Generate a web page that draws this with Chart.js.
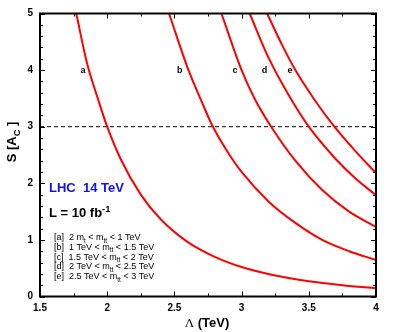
<!DOCTYPE html>
<html><head><meta charset="utf-8">
<script src="https://cdn.jsdelivr.net/npm/chart.js@4.4.1/dist/chart.umd.min.js"></script>
<style>html,body{margin:0;padding:0;background:#fff}#wrap{width:396px;height:332px}</style>
</head><body><div id="wrap"><canvas id="c" width="396" height="332"></canvas></div>
<script>
// ---- data ----
const lambdaA = [1.77, 1.85, 1.93, 2.0, 2.1, 2.25, 2.4, 2.6, 2.8, 3.0, 3.25, 3.5, 3.75, 4.0];
const sA      = [5.0, 4.12, 3.5, 3.0, 2.43, 1.8, 1.36, 0.96, 0.70, 0.52, 0.37, 0.27, 0.20, 0.145];
const lambdaB = [2.46, 2.6, 2.7, 2.78, 2.9, 3.0, 3.2, 3.4, 3.6, 3.8, 4.0];
const sB      = [5.0, 4.03, 3.46, 3.03, 2.54, 2.2, 1.68, 1.3, 1.0, 0.8, 0.645];
const lambdaC = [2.85, 3.0, 3.1, 3.22, 3.4, 3.6, 3.8, 4.0];
const sC      = [5.0, 4.0, 3.48, 3.0, 2.4, 1.88, 1.5, 1.23];
const lambdaD = [3.06, 3.2, 3.35, 3.5, 3.7, 3.85, 4.0];
const sD      = [5.0, 4.22, 3.56, 3.0, 2.43, 2.08, 1.79];
const lambdaE = [3.19, 3.3, 3.4, 3.55, 3.69, 3.85, 4.0];
const sE      = [5.0, 4.45, 4.0, 3.45, 3.0, 2.56, 2.18];
const thresholdS = 3;
const curveTags = ['a', 'b', 'c', 'd', 'e'];
const curveTagLambda = [1.82, 2.54, 2.95, 3.17, 3.36];
const curveTagS = 4.0;
const xTicks = [1.5, 2, 2.5, 3, 3.5, 4];
const yTicks = [0, 1, 2, 3, 4, 5];
const legendTags = ['[a]', '[b]', '[c]', '[d]', '[e]'];
const legendLow  = ['2 m', '1 TeV', '1.5 TeV', '2 TeV', '2.5 TeV'];
const legendHigh = ['1 TeV', '1.5 TeV', '2 TeV', '2.5 TeV', '3 TeV'];

const FONT = '"Liberation Sans", Arial, Helvetica, sans-serif';
const pts = (xs, ys) => xs.map((x, i) => ({x, y: ys[i]}));
const curve = (xs, ys) => ({data: pts(xs, ys), showLine: true, borderColor: '#ff0000', borderWidth: 2,
  pointRadius: 0, cubicInterpolationMode: 'monotone', fill: false});

function drawRich(ctx, x, y, parts, size, weight) {
  let cx = x;
  for (const [t, m] of parts) {
    const s = m ? size * 0.72 : size;
    ctx.font = `${weight} ${s}px ${FONT}`;
    const dy = m === 1 ? size * 0.28 : (m === 2 ? -size * 0.42 : 0);
    ctx.fillText(t, cx, y + dy);
    cx += ctx.measureText(t).width;
  }
  return cx - x;
}
function measureRich(ctx, parts, size, weight) {
  let w = 0;
  for (const [t, m] of parts) {
    const s = m ? size * 0.72 : size;
    ctx.font = `${weight} ${s}px ${FONT}`;
    w += ctx.measureText(t).width;
  }
  return w;
}

const decor = {
  id: 'decor',
  afterDraw(chart) {
    const {ctx, chartArea: a, scales: {x, y}} = chart;
    ctx.save();
    // frame
    ctx.strokeStyle = '#000'; ctx.lineWidth = 2;
    ctx.strokeRect(a.left, a.top, a.right - a.left, a.bottom - a.top);
    // inward ticks
    ctx.lineWidth = 1;
    ctx.beginPath();
    for (let i = 0; i <= 10; i++) {
      const v = 1.5 + i * 0.25;
      const px = Math.round(x.getPixelForValue(v)) + 0.5;
      const len = (i % 2 === 0) ? 5 : 3;
      ctx.moveTo(px, a.bottom); ctx.lineTo(px, a.bottom - len);
      ctx.moveTo(px, a.top); ctx.lineTo(px, a.top + len);
    }
    for (let i = 0; i <= 25; i++) {
      const v = i * 0.2;
      const py = Math.round(y.getPixelForValue(v)) + 0.5;
      const len = (i % 5 === 0) ? 5 : 3;
      ctx.moveTo(a.left, py); ctx.lineTo(a.left + len, py);
      ctx.moveTo(a.right, py); ctx.lineTo(a.right - len, py);
    }
    ctx.stroke();
    // curve tags
    ctx.fillStyle = '#000';
    ctx.font = `bold 9px ${FONT}`;
    ctx.textAlign = 'center'; ctx.textBaseline = 'middle';
    curveTags.forEach((t, i) => ctx.fillText(t, x.getPixelForValue(curveTagLambda[i]), y.getPixelForValue(curveTagS)));
    // LHC text
    ctx.textAlign = 'left'; ctx.textBaseline = 'alphabetic';
    ctx.fillStyle = '#1010f0';
    ctx.font = `bold 13px ${FONT}`;
    ctx.fillText('LHC  14 TeV', 49, 192);
    ctx.fillStyle = '#000';
    drawRich(ctx, 49, 217, [['L = 10 fb', 0], ['-1', 2]], 13, 'bold');
    // legend
    for (let i = 0; i < 5; i++) {
      const by = 240 + i * 9.75;
      const parts = [[legendTags[i] + '  ', 0]];
      if (i === 0) { parts.push(['2 m', 0], ['t', 1]); }
      else parts.push([legendLow[i], 0]);
      parts.push([' < m', 0], ['tt', 1], [' < ' + legendHigh[i], 0]);
      drawRich(ctx, 54, by, parts, 9, 'normal');
    }
    // x title
    ctx.textBaseline = 'middle';
    ctx.font = `13px "Liberation Serif", "DejaVu Serif", serif`;
    const wL = ctx.measureText('\u039B').width;
    ctx.font = `bold 13px ${FONT}`;
    const wR = ctx.measureText(' (TeV)').width;
    const x0 = 207 - (wL + wR) / 2;
    ctx.font = `13px "Liberation Serif", "DejaVu Serif", serif`;
    ctx.fillText('\u039B', x0, 323.5);
    ctx.font = `bold 13px ${FONT}`;
    ctx.fillText(' (TeV)', x0 + wL, 323.5);
    // y title
    ctx.save();
    ctx.translate(16, 142);
    ctx.rotate(-Math.PI / 2);
    ctx.textBaseline = 'alphabetic';
    const yparts = [['S [A', 0], ['C', 1], [' ]', 0]];
    const wy = measureRich(ctx, yparts, 13, 'bold');
    drawRich(ctx, -wy / 2, 0, yparts, 13, 'bold');
    ctx.restore();
    ctx.restore();
  }
};

new Chart(document.getElementById('c'), {
  type: 'scatter',
  data: {
    datasets: [
      curve(lambdaA, sA), curve(lambdaB, sB), curve(lambdaC, sC), curve(lambdaD, sD), curve(lambdaE, sE),
      {data: [{x: xTicks[0], y: thresholdS}, {x: xTicks[xTicks.length - 1], y: thresholdS}], showLine: true,
       borderColor: '#000', borderWidth: 1, borderDash: [4, 3], pointRadius: 0}
    ]
  },
  options: {
    responsive: false, animation: false, devicePixelRatio: 1,
    layout: {padding: {left: 0, right: 20, top: 13.5, bottom: 0}},
    plugins: {legend: {display: false}, tooltip: {enabled: false}},
    scales: {
      x: {
        type: 'linear', min: 1.5, max: 4,
        afterBuildTicks: s => { s.ticks = xTicks.map(v => ({value: v})); },
        afterFit: s => { s.height = 35.5; },
        grid: {display: false, drawTicks: false},
        border: {display: false},
        ticks: {color: '#000', font: {family: FONT, size: 10, weight: 'bold'}, padding: 6, maxRotation: 0,
                callback: v => String(v)}
      },
      y: {
        type: 'linear', min: 0, max: 5,
        afterBuildTicks: s => { s.ticks = yTicks.map(v => ({value: v})); },
        afterFit: s => { s.width = 40; },
        grid: {display: false, drawTicks: false},
        border: {display: false},
        ticks: {color: '#000', font: {family: FONT, size: 10, weight: 'bold'}, padding: 7,
                callback: v => String(v)}
      }
    }
  },
  plugins: [decor]
});
</script></body></html>
